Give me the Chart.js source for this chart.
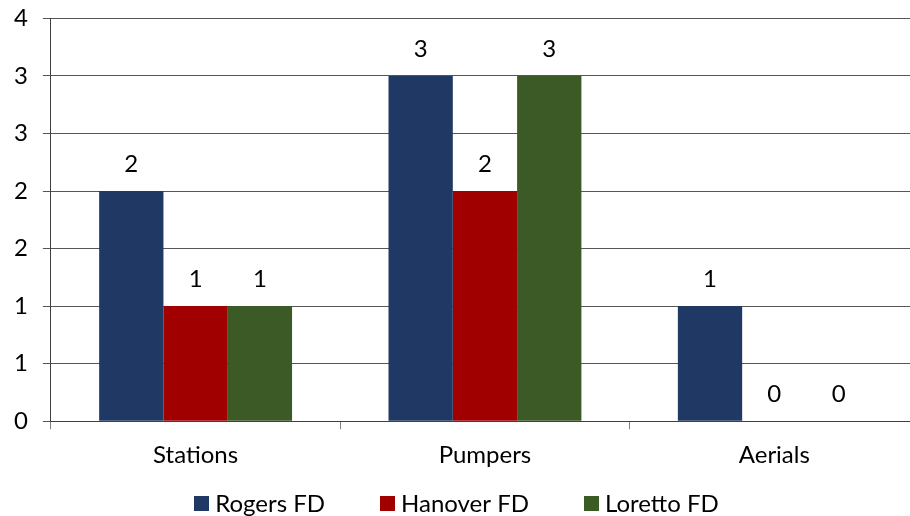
<!DOCTYPE html>
<html>
<head>
<meta charset="utf-8">
<script src="https://cdn.jsdelivr.net/npm/chart.js@4"></script>
<style>
  html, body { margin: 0; padding: 0; background: #fff; overflow: hidden; }
  #wrap { width: 910px; height: 516px; position: relative; overflow: hidden; }
  /* the plot runs slightly past the right edge and above the top of the frame */
  #c { position: absolute; left: 0; top: -11px; }
</style>
</head>
<body>
<div id="wrap"><canvas id="c" width="919" height="527"></canvas></div>
<script>
// Apparatus counts per department
const categories = ['Stations', 'Pumpers', 'Aerials'];
const rogersFD   = [2, 3, 1];
const hanoverFD  = [1, 2, 0];
const lorettoFD  = [1, 3, 0];
const seriesNames = ['Rogers FD', 'Hanover FD', 'Loretto FD'];
const seriesColors = ['#203864', '#A00000', '#3C5A25'];
const yTicks = [0, 0.5, 1, 1.5, 2, 2.5, 3, 3.5];

const FONT = 'Lato, "Open Sans", sans-serif';
const FONT_SIZE = 24;
const CANVAS_TOP = 11; // canvas rows hidden above the frame

// Value labels centred above each bar
const valueLabels = {
  id: 'valueLabels',
  afterDatasetsDraw(chart) {
    const ctx = chart.ctx;
    ctx.save();
    ctx.font = FONT_SIZE + 'px ' + FONT;
    ctx.fillStyle = '#000';
    ctx.textAlign = 'center';
    ctx.textBaseline = 'middle';
    chart.data.datasets.forEach((ds, i) => {
      chart.getDatasetMeta(i).data.forEach((bar, j) => {
        ctx.fillText(String(ds.data[j]), bar.x, bar.y - 27);
      });
    });
    ctx.restore();
  }
};

// Single-row legend along the bottom edge, built from the datasets
const bottomLegend = {
  id: 'bottomLegend',
  afterDraw(chart) {
    const ctx = chart.ctx;
    const box = 15, textGap = 6, itemGap = 55;
    const cy = 503 + CANVAS_TOP, cx = 456.5;
    ctx.save();
    ctx.font = FONT_SIZE + 'px ' + FONT;
    ctx.textBaseline = 'middle';
    ctx.textAlign = 'left';
    const items = chart.data.datasets.map(ds => ({
      text: ds.label, color: ds.backgroundColor,
      w: box + textGap + ctx.measureText(ds.label).width
    }));
    const total = items.reduce((s, it) => s + it.w, 0) + itemGap * (items.length - 1);
    let x = cx - total / 2;
    items.forEach(it => {
      ctx.fillStyle = it.color;
      ctx.fillRect(Math.round(x), cy - 7, box, box);
      ctx.fillStyle = '#000';
      ctx.fillText(it.text, x + box + textGap, cy + 1);
      x += it.w + itemGap;
    });
    ctx.restore();
  }
};

const datasets = [rogersFD, hanoverFD, lorettoFD].map((vals, i) => ({
  label: seriesNames[i],
  data: vals,
  backgroundColor: seriesColors[i],
  borderWidth: 0,
  categoryPercentage: 3 / 4.5,
  barPercentage: 1.0
}));

new Chart(document.getElementById('c'), {
  type: 'bar',
  data: { labels: categories, datasets },
  plugins: [valueLabels, bottomLegend],
  options: {
    responsive: false,
    animation: false,
    layout: { padding: { left: -1, right: 0, top: 0, bottom: 34 } },
    plugins: {
      tooltip: { enabled: false },
      legend: { display: false }
    },
    scales: {
      x: {
        offset: true,
        grid: {
          offset: true,
          drawOnChartArea: false,
          drawTicks: true,
          tickLength: 8,
          color: '#808080'
        },
        border: { color: '#404040', width: 1 },
        ticks: {
          font: { family: FONT, size: FONT_SIZE },
          color: '#000',
          padding: 12
        }
      },
      y: {
        min: 0,
        max: 3.5,
        afterBuildTicks(scale) {
          scale.ticks = yTicks.map(v => ({ value: v }));
        },
        grid: {
          color: '#555',
          tickLength: 8,
          drawTicks: true
        },
        border: { color: '#404040', width: 1 },
        ticks: {
          font: { family: FONT, size: FONT_SIZE },
          color: '#000',
          padding: 15,
          callback: v => String(Math.round(v))
        }
      }
    }
  }
});
</script>
</body>
</html>
